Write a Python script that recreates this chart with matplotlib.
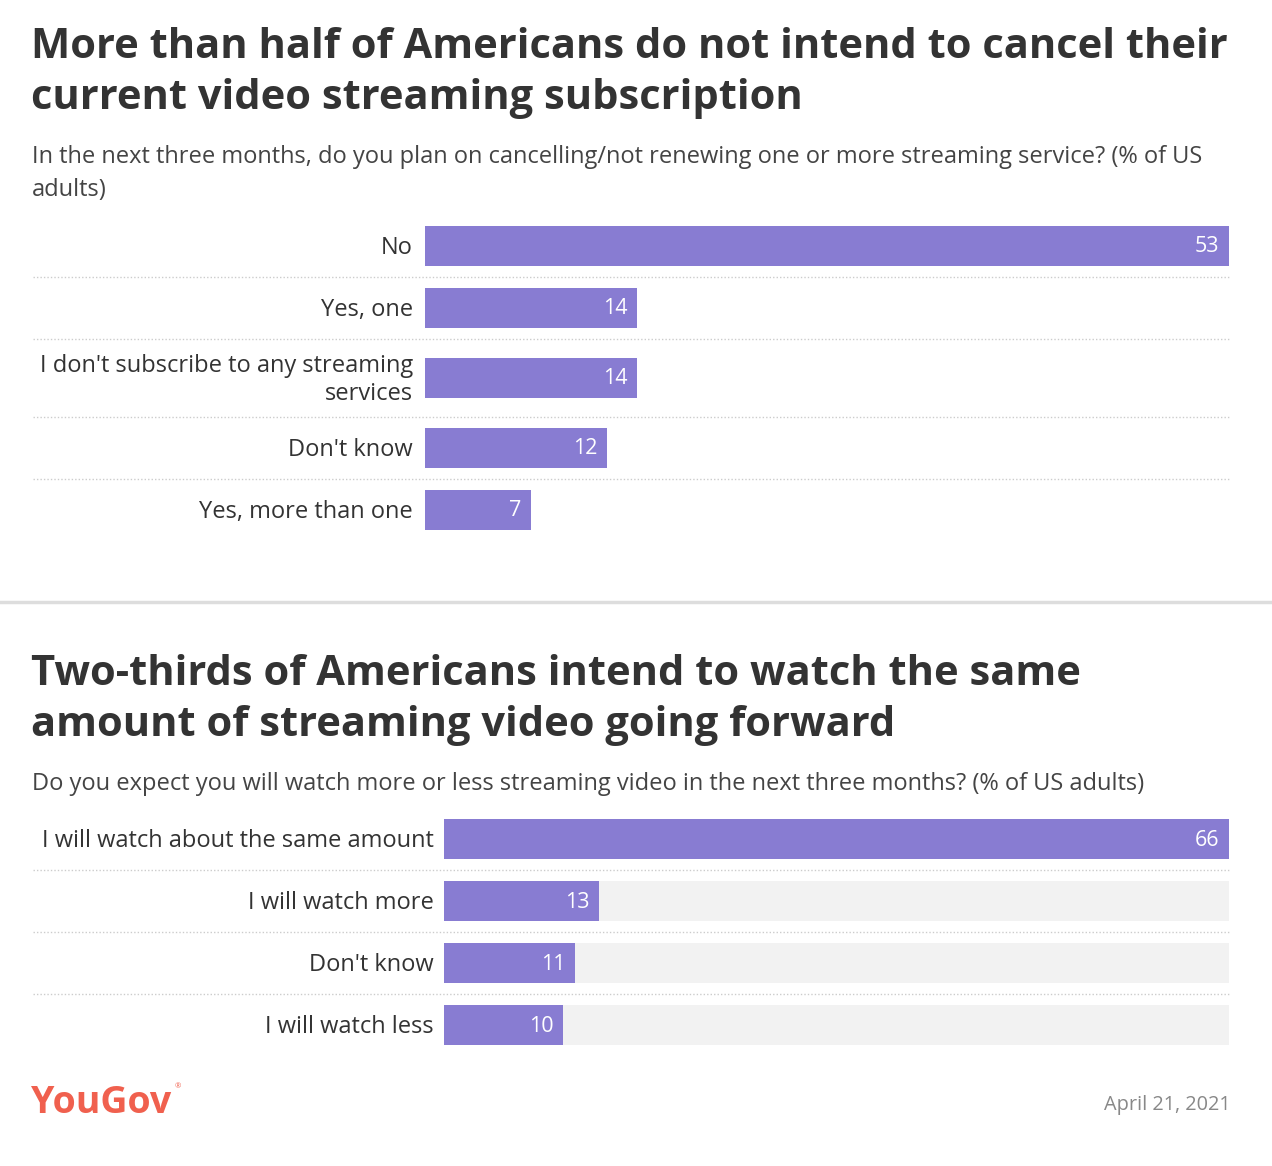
import matplotlib
matplotlib.use("Agg")
import matplotlib.pyplot as plt

plt.rcParams["font.family"] = ["Open Sans", "DejaVu Sans"]

# ---- data ----
cancel_labels = ["No", "Yes, one", "I don't subscribe to any streaming\nservices",
                 "Don't know", "Yes, more than one"]
cancel_values = [53, 14, 14, 12, 7]

watch_labels = ["I will watch about the same amount", "I will watch more",
                "Don't know", "I will watch less"]
watch_values = [66, 13, 11, 10]

W, H = 1272, 1166
BAR = "#887cd2"
DARK = "#333333"

fig = plt.figure(figsize=(W / 100, H / 100), dpi=100)
bg = fig.add_axes([0, 0, 1, 1])
bg.set_xlim(0, W)
bg.set_ylim(H, 0)
bg.axis("off")


def rows(labels, top, single=62, double=78):
    """Row centres and boundaries in pixel units, taller rows for 2-line labels."""
    centres, edges = [], [top]
    y = top
    for lab in labels:
        h = double if "\n" in lab else single
        centres.append(y + h / 2)
        y += h
        edges.append(y)
    return centres, edges


def panel(labels, values, top, x0, label_x, backdrop):
    centres, edges = rows(labels, top)
    x1 = 1229
    ax = fig.add_axes([x0 / W, 1 - edges[-1] / H, (x1 - x0) / W, (edges[-1] - top) / H])
    ax.set_xlim(0, max(values))
    ax.set_ylim(edges[-1], top)
    ax.axis("off")
    if backdrop:
        ax.barh(centres, [max(values)] * len(values), height=40, color="#f2f2f2")
    ax.barh(centres, values, height=40, color=BAR)
    for c, v in zip(centres, values):
        ax.text(v - max(values) * 0.012, c + 1, str(v), ha="right", va="center",
                color="white", fontsize=15.5)
    for c, lab in zip(centres, labels):
        bg.text(label_x, c + 2, lab, ha="right", va="center", fontsize=17,
                color=DARK, linespacing=1.22)
    for e in edges[1:-1]:
        bg.plot([33, x1], [e, e], color="#cccccc", lw=1, ls=(0, (1, 1.5)))


# top panel
bg.text(31, 58, "More than half of Americans do not intend to cancel their",
        fontsize=30, fontweight="bold", color=DARK)
bg.text(31, 109, "current video streaming subscription",
        fontsize=30, fontweight="bold", color=DARK)
bg.text(32, 163, "In the next three months, do you plan on cancelling/not renewing "
        "one or more streaming service? (% of US", fontsize=17, color="#444444")
bg.text(32, 196, "adults)", fontsize=17, color="#444444")
panel(cancel_labels, cancel_values, 215, 425, 413, False)

# divider
bg.plot([0, W], [602, 602], color="#dddddd", lw=2.5)

# bottom panel
bg.text(31, 685, "Two-thirds of Americans intend to watch the same",
        fontsize=30, fontweight="bold", color=DARK)
bg.text(31, 736, "amount of streaming video going forward",
        fontsize=30, fontweight="bold", color=DARK)
bg.text(32, 790, "Do you expect you will watch more or less streaming video in the "
        "next three months? (% of US adults)", fontsize=17, color="#444444")
panel(watch_labels, watch_values, 808, 444, 434, True)

# footer
bg.text(31, 1113, "YouGov", fontsize=27, fontweight="bold", color="#f0604e")
bg.text(175, 1088, "\u00ae", fontsize=5.5, color="#f0604e")
bg.text(1231, 1110, "April 21, 2021", ha="right", fontsize=14.3, color="#888888")

fig.savefig("out.png", dpi=100, facecolor="white")
